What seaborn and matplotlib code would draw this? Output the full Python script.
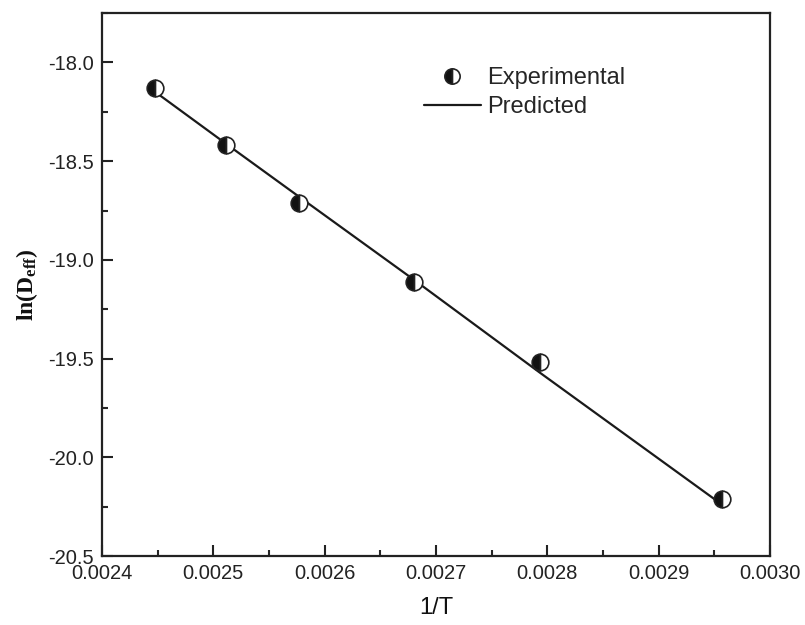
import matplotlib
matplotlib.use("Agg")
import matplotlib.pyplot as plt
import seaborn as sns
import pandas as pd
from matplotlib.ticker import MultipleLocator, FormatStrFormatter
from matplotlib.lines import Line2D

# Data
inv_T = [0.002448, 0.002511, 0.002577, 0.002680, 0.002793, 0.002957]
ln_deff_exp = [-18.13, -18.42, -18.71, -19.11, -19.515, -20.21]
ln_deff_pred = [-18.15, -18.41, -18.68, -19.10, -19.57, -20.24]

sns.set_theme(style="white")
plt.rcParams['font.family'] = ['Liberation Sans', 'DejaVu Sans']
plt.rcParams['mathtext.fontset'] = 'custom'
plt.rcParams['mathtext.rm'] = 'Liberation Serif'
plt.rcParams['mathtext.bf'] = 'Liberation Serif:bold'

df = pd.DataFrame({"x": inv_T, "exp": ln_deff_exp, "pred": ln_deff_pred})

fig = plt.figure(figsize=(8.05, 6.25), dpi=100)
ax = fig.add_axes([0.1267, 0.1104, 0.8298, 0.8686])

sns.lineplot(data=df, x="x", y="pred", ax=ax, color="#1a1a1a", linewidth=1.6,
             sort=False, estimator=None)
sns.lineplot(data=df, x="x", y="exp", ax=ax, linestyle="", marker="o",
             markersize=12, fillstyle="left", markerfacecolor="#111111",
             markerfacecoloralt="white", markeredgecolor="#222222",
             markeredgewidth=1.2, sort=False, estimator=None)

ax.set_xlim(0.0024, 0.0030)
ax.set_ylim(-20.5, -17.75)
ax.xaxis.set_major_locator(MultipleLocator(0.0001))
ax.xaxis.set_minor_locator(MultipleLocator(0.00005))
ax.yaxis.set_major_locator(MultipleLocator(0.5))
ax.yaxis.set_minor_locator(MultipleLocator(0.25))
ax.xaxis.set_major_formatter(FormatStrFormatter('%.4f'))
ax.yaxis.set_major_formatter(FormatStrFormatter('%.1f'))

ax.tick_params(which='major', direction='in', length=8, width=1.5, labelsize=14.5,
               colors='#222222', bottom=True, left=True, top=False, right=False, pad=6)
ax.tick_params(which='minor', direction='in', length=4, width=1.5,
               bottom=True, left=True, top=False, right=False)

for s in ax.spines.values():
    s.set_color('#222222')
    s.set_linewidth(1.6)
    s.set_visible(True)

ax.set_xlabel("1/T", fontsize=17, color='#111111', labelpad=10)
ax.set_ylabel(r'$\mathbf{ln(D_{eff})}$', fontsize=17, color='#111111', labelpad=6)

handles = [
    Line2D([], [], linestyle='', marker='o', markersize=11, fillstyle='left',
           markerfacecolor='#111111', markerfacecoloralt='white',
           markeredgecolor='#222222', markeredgewidth=1.2),
    Line2D([], [], color='#1a1a1a', linewidth=1.6),
]
ax.legend(handles, ["Experimental", "Predicted"], loc='upper left',
          bbox_to_anchor=(0.45, 0.94), frameon=False, fontsize=17,
          handlelength=2.4, handletextpad=0.3, labelspacing=0.3)

fig.savefig("out.png", dpi=100)
